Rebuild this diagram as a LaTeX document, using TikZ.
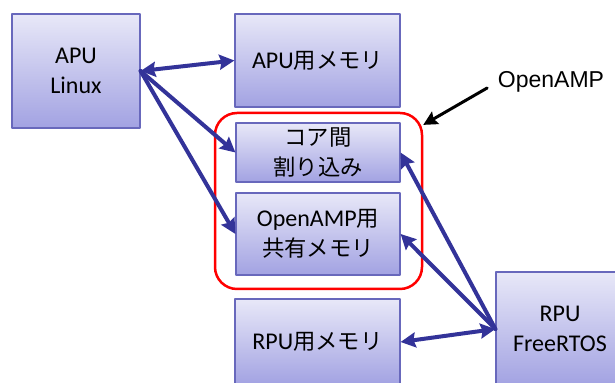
\documentclass[tikz,border=0pt]{standalone}
\usepackage{fontspec}
\setmainfont{Carlito}
\newfontfamily\jpfont[Scale=0.93]{Noto Sans CJK JP}
\newfontfamily\labelfont{Liberation Sans}
\usetikzlibrary{arrows.meta}
\definecolor{boxtop}{RGB}{232,232,248}
\definecolor{boxbot}{RGB}{162,162,226}
\definecolor{boxline}{RGB}{104,104,188}
\definecolor{linkblue}{RGB}{51,51,153}
\tikzset{
  unit/.style={draw=boxline, line width=0.6pt, top color=boxtop, bottom color=boxbot,
    align=center, inner sep=0pt, font=\fontsize{12}{15}\selectfont},
  link/.style={draw=linkblue, line width=2pt, -{Stealth[length=7.5pt,width=7.5pt,inset=1pt]}},
  dlink/.style={link, {Stealth[length=7.5pt,width=7.5pt,inset=1pt]}-{Stealth[length=7.5pt,width=7.5pt,inset=1pt]}},
}

\begin{document}
\begin{tikzpicture}[x=0.5pt, y=-0.5pt, line cap=round, line join=round]
  \useasboundingbox (0,0) rectangle (615,383);
  % APU side.
  \node[unit, minimum width=64pt, minimum height=57pt] (apu) at (76,71) {APU\\Linux};
  \node[unit, minimum width=82.5pt, minimum height=46.5pt] (apumem) at (317.5,60.5) {APU{\jpfont 用メモリ}};
  % Shared by both cores.
  \node[unit, minimum width=82pt, minimum height=29.5pt] (irq) at (318,152.5) {{\jpfont コア間}\\{\jpfont 割り込み}};
  \node[unit, minimum width=82pt, minimum height=41pt] (shm) at (318,234) {OpenAMP{\jpfont 用}\\{\jpfont 共有メモリ}};
  \node[draw=red, line width=1.25pt, rounded corners=11pt, minimum width=103.5pt, minimum height=88pt] (grp) at (318.5,201) {};
  % RPU side.
  \node[unit, minimum width=82.5pt, minimum height=43pt] (rpumem) at (317.5,342) {RPU{\jpfont 用メモリ}};
  \node[unit, minimum width=64pt, minimum height=57pt] (rpu) at (560,329) {RPU\\FreeRTOS};
  % Label.
  \node[font=\labelfont\fontsize{11.5}{14}\selectfont, inner sep=0pt] (lbl) at (551,82) {OpenAMP};
  % Links.
  \draw[dlink] (apu.east) -- (apumem.west);
  \draw[link] (apu.east) -- (irq.west);
  \draw[link] (apu.east) -- (shm.west);
  \draw[link] (rpu.west) -- (irq.east);
  \draw[link] (rpu.west) -- (shm.east);
  \draw[dlink] (rpu.west) -- (rpumem.east);
  \draw[line width=1.5pt, -{Stealth[length=7pt,width=7pt,inset=1pt]}, shorten <=6pt] (lbl.west) -- (grp.36);
\end{tikzpicture}
\end{document}
